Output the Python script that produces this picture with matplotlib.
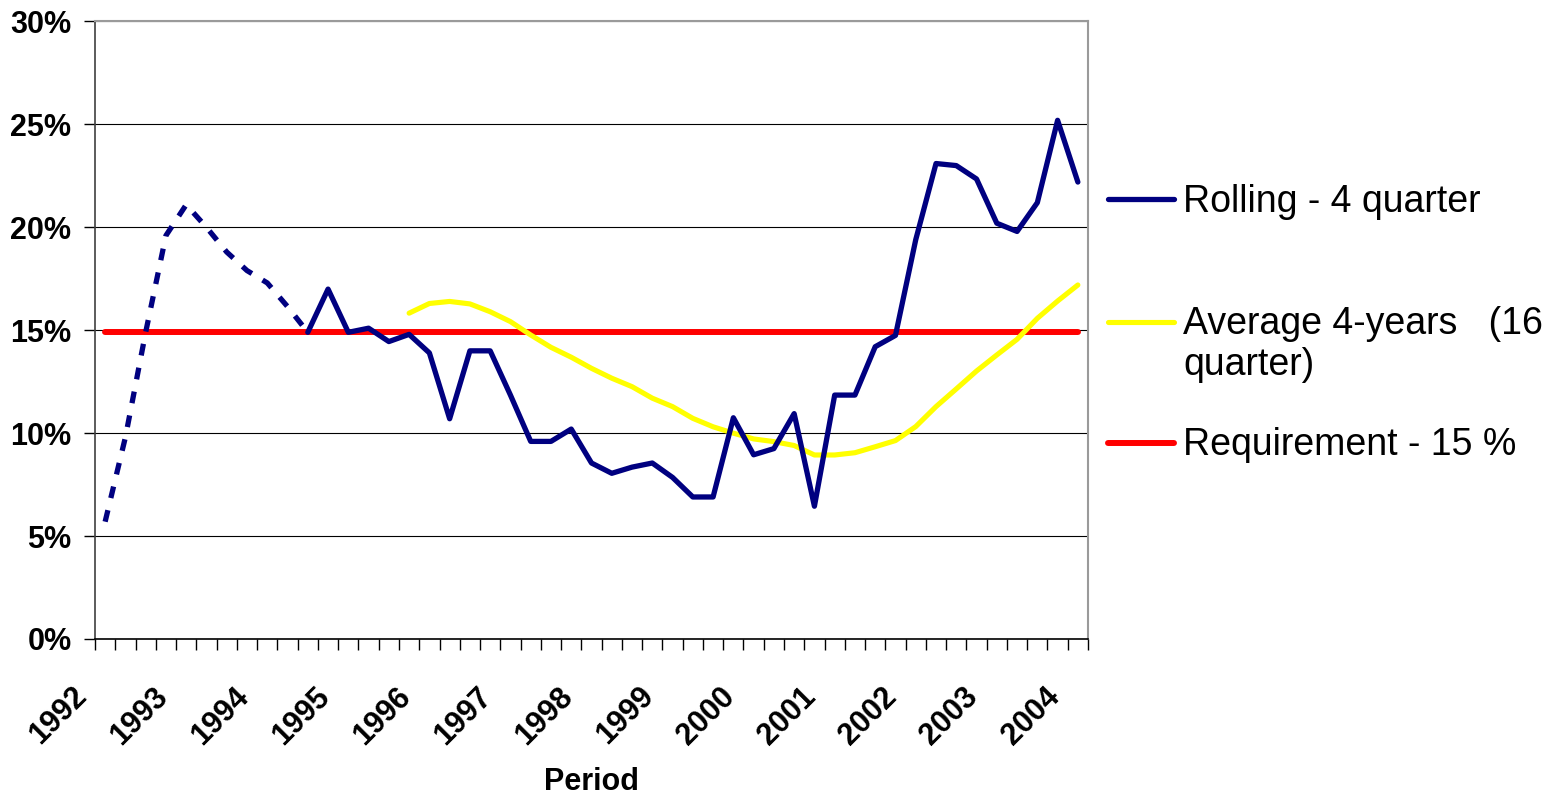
"""Rolling vs 4-year average return against the 15 % requirement."""

import matplotlib

matplotlib.use("Agg")
import matplotlib.pyplot as plt  # noqa: E402
import matplotlib.transforms as mtransforms  # noqa: E402
from matplotlib.lines import Line2D  # noqa: E402

NAVY = "#000080"
YELLOW = "#FFFF00"
RED = "#FF0000"
FONT = "Liberation Sans"

# quarterly data, one point per quarter, 1992 .. 2004
years = list(range(1992, 2005))
quarters_per_year = 4

rolling = [
    5.7, 9.8, 14.9, 19.6, 21.1, 20.0, 18.8, 17.9, 17.3, 16.15,
    14.9, 17.0, 14.9, 15.1, 14.45, 14.8, 13.9, 10.7, 14.0, 14.0,
    11.85, 9.6, 9.6, 10.2, 8.55, 8.05, 8.35, 8.55, 7.85, 6.9,
    6.9, 10.75, 8.95, 9.25, 10.95, 6.45, 11.85, 11.85, 14.2, 14.75,
    19.4, 23.1, 23.0, 22.35, 20.2, 19.8, 21.2, 25.2, 22.2,
]
nan = float("nan")
average = [nan] * 15 + [
    15.83, 16.3, 16.4, 16.28, 15.9, 15.42, 14.77, 14.17, 13.69, 13.15,
    12.67, 12.26, 11.7, 11.29, 10.72, 10.31, 10.0, 9.72, 9.59, 9.4,
    8.94, 8.94, 9.05, 9.34, 9.64, 10.32, 11.29, 12.15, 13.02, 13.8,
    14.56, 15.58, 16.42, 17.2,
]
requirement = [14.9] * len(rolling)

series_labels = ["Rolling - 4 quarter", "Average 4-years   (16\nquarter)", "Requirement - 15 %"]
y_ticks = [0, 5, 10, 15, 20, 25, 30]

DASHED_UNTIL = 10  # early part of the rolling series is drawn dashed

plt.rcParams["font.family"] = [FONT, "DejaVu Sans"]
plt.rcParams["lines.scale_dashes"] = False

W, H = 1557, 797
fig = plt.figure(figsize=(W / 100, H / 100), dpi=100)
left, right, top, bottom = 95, 1088, 21.5, 639
ax = fig.add_axes([left / W, 1 - bottom / H, (right - left) / W, (bottom - top) / H])

x = list(range(len(rolling)))

ax.plot(x, requirement, color=RED, lw=4.3, solid_capstyle="round", zorder=3)
ax.plot(x, average, color=YELLOW, lw=3.7, solid_capstyle="round", solid_joinstyle="round", zorder=4)
ax.plot(
    x[: DASHED_UNTIL + 1],
    rolling[: DASHED_UNTIL + 1],
    color=NAVY,
    lw=3.8,
    linestyle=(0, (8.5, 9)),
    dash_capstyle="butt",
    zorder=5,
)
ax.plot(
    x[DASHED_UNTIL:],
    rolling[DASHED_UNTIL:],
    color=NAVY,
    lw=3.8,
    solid_capstyle="round",
    solid_joinstyle="round",
    zorder=5,
)

ax.set_xlim(-0.5, len(rolling) - 0.5)
ax.set_ylim(0, 30)

# y axis
ax.set_yticks(y_ticks)
ax.set_yticklabels([f"{v}%" for v in y_ticks], fontsize=22, fontweight="bold")
ax.tick_params(axis="y", direction="out", length=8, width=1, pad=9, color="black")
ax.yaxis.grid(True, color="black", lw=0.8)
ax.set_axisbelow(True)

# x axis: tick marks between quarters, year labels every 4th quarter
year_pos = [i * quarters_per_year for i in range(len(years))]
ax.set_xticks(year_pos)
ax.set_xticks([i - 0.5 for i in range(len(rolling) + 1)], minor=True)
ax.tick_params(axis="x", which="major", length=0, pad=0)
ax.tick_params(axis="x", which="minor", direction="out", length=8, width=1, color="black")
ax.set_xticklabels(
    [str(y) for y in years],
    fontsize=22,
    fontweight="bold",
    rotation=45,
    ha="right",
    va="center",
    rotation_mode="anchor",
)
shift = mtransforms.ScaledTranslation(-0.23, -0.53, fig.dpi_scale_trans)
for lab in ax.get_xticklabels():
    lab.set_transform(lab.get_transform() + shift)

for side in ("top", "right"):
    ax.spines[side].set_color("#9A9A9A")
    ax.spines[side].set_linewidth(1.5)
ax.spines["left"].set_color("#404040")
ax.spines["left"].set_linewidth(1.2)
ax.spines["bottom"].set_color("black")
ax.spines["bottom"].set_linewidth(1.2)

fig.text((left + right) / 2 / W, 1 - 782 / H, "Period", fontsize=22, fontweight="bold",
         ha="center", va="center")

# legend drawn by hand to keep the uneven row spacing
# (line y, baseline y of the last text line), in pixels from the top
legend_rows = [
    (NAVY, 3.8, 199, 211.7),
    (YELLOW, 3.7, 322, 375),
    (RED, 4.3, 443, 455),
]
for (color, lw, line_y, base_y), label in zip(legend_rows, series_labels):
    fig.add_artist(
        Line2D(
            [1108 / W, 1174 / W],
            [1 - line_y / H, 1 - line_y / H],
            transform=fig.transFigure,
            color=color,
            lw=lw,
            solid_capstyle="round",
        )
    )
    fig.text(1183 / W, 1 - base_y / H, label, fontsize=27, ha="left", va="baseline",
             linespacing=1.17)

fig.savefig("out.png", dpi=100, facecolor="white")
plt.close(fig)
